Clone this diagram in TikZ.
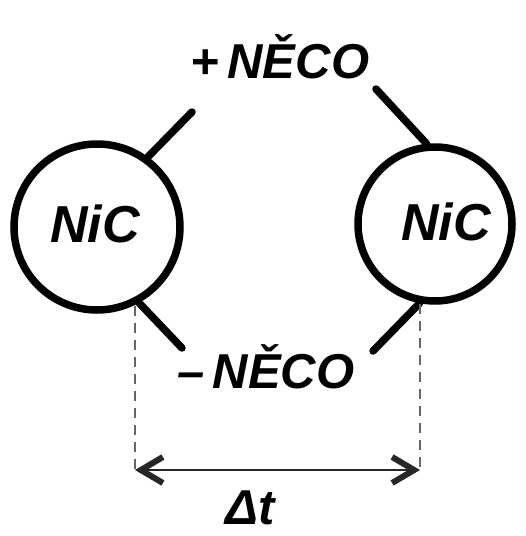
\documentclass[tikz,border=0pt]{standalone}
\usepackage{fontspec}
\setmainfont{Liberation Sans}
\usetikzlibrary{arrows.meta}
\begin{document}
\begin{tikzpicture}[x=1pt,y=-1pt,
  hand/.style={font=\bfseries\itshape\fontsize{49}{54}\selectfont, inner sep=0pt, anchor=base},
  handc/.style={font=\bfseries\itshape\fontsize{52}{56}\selectfont, inner sep=0pt, anchor=base},
  blob/.style={circle, draw, line width=7.5pt, inner sep=0pt},
  link/.style={line width=7.5pt, line cap=round},
  guide/.style={dash pattern=on 10pt off 7pt, line width=1.3pt, black!60},
  span/.style={line width=2pt, black!85,
    {Straight Barb[length=22pt, width=26pt, line width=6pt]}-{Straight Barb[length=22pt, width=26pt, line width=6pt]}}]
\useasboundingbox (0,0) rectangle (526,536);
% circles
\node[blob, minimum size=166pt] (L) at (97,227) {};
\node[blob, minimum size=154pt] (R) at (435,224) {};
\node[handc] (tl) at (95,242) {NiC};
\node[handc] (tr) at (446,240) {NiC};
% labels
\node[hand] (plus) at (280,78) {+\,NĚCO};
\node[hand] (minus) at (266,388) {–\,NĚCO};
\node[hand] (dt) at (250,524) {Δt};
% connector ends
\coordinate (ul) at (192,112);
\coordinate (ur) at (376,89);
\coordinate (ll) at (182,348);
\coordinate (lr) at (373,351);
\draw[link] (L.54) -- (ul);
\draw[link] (R.96) -- (ur);
\draw[link] (L.-61) -- (ll);
\draw[link] (R.-101) -- (lr);
% dimension
\coordinate (dl) at (135,306);
\coordinate (dr) at (420,304);
\coordinate (al) at (135,470);
\coordinate (ar) at (420,470);
\draw[guide] (dl) -- (al);
\draw[guide] (dr) -- (ar);
\draw[span] (al) -- (ar);
\end{tikzpicture}
\end{document}
